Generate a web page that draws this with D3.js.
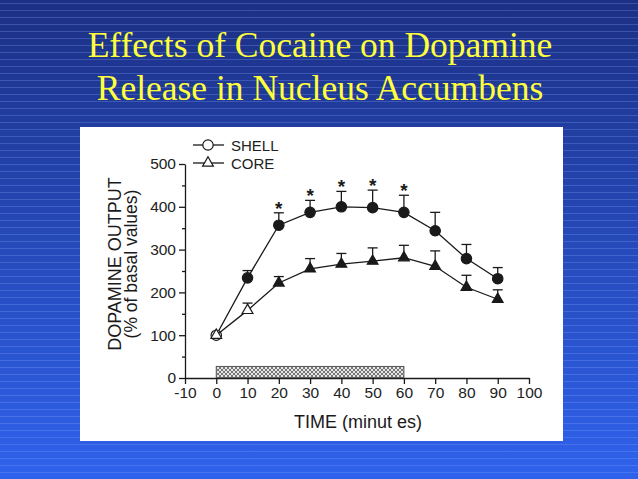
<!DOCTYPE html>
<html><head><meta charset="utf-8">
<script src="https://cdn.jsdelivr.net/npm/d3@7"></script>
<style>body{margin:0;overflow:hidden;background:#203a9a} svg{display:block}</style>
</head><body>
<script>
// ---- data ----
const titleLines = ["Effects of Cocaine on Dopamine", "Release in Nucleus Accumbens"];
const times = [0, 10, 20, 30, 40, 50, 60, 70, 80, 90];
const shellMean = [100, 234, 357, 387, 400, 398, 387, 344, 279, 232];
const shellErr  = [0, 17, 29, 28, 36, 41, 40, 43, 33, 26];
const shellFilled = [false, true, true, true, true, true, true, true, true, true];
const coreMean = [100, 158, 222, 255, 266, 273, 281, 261, 212, 184];
const coreErr  = [0, 17, 15, 24, 25, 31, 29, 36, 28, 22];
const coreFilled = [false, false, true, true, true, true, true, true, true, true];
const starTimes = [20, 30, 40, 50, 60];
const xTicks = [-10, 0, 10, 20, 30, 40, 50, 60, 70, 80, 90, 100];
const yTicks = [0, 100, 200, 300, 400, 500];
const yMinorTicks = [50, 150, 250, 350, 450];
const cocaineStart = [0], cocaineEnd = [60], cocaineLow = [1], cocaineHigh = [27];
const seriesNames = ["SHELL", "CORE"];
const xLabel = "TIME (minut es)";
const yLabel1 = "DOPAMINE OUTPUT";
const yLabel2 = "(% of basal values)";

const W = 638, H = 479;
const svg = d3.select("body").append("svg").attr("width", W).attr("height", H);
const defs = svg.append("defs");

// background gradient
const g = defs.append("linearGradient").attr("id", "bg").attr("x1", 0).attr("y1", 0).attr("x2", 0).attr("y2", 1);
g.append("stop").attr("offset", "0%").attr("stop-color", "#1c3084");
g.append("stop").attr("offset", "100%").attr("stop-color", "#2f62ec");
svg.append("rect").attr("width", W).attr("height", H).attr("fill", "url(#bg)");
const stripeY = d3.range(3, H, 7);
svg.append("g").selectAll("line").data(stripeY).join("line")
  .attr("x1", 0).attr("x2", W).attr("y1", d => d + 0.5).attr("y2", d => d + 0.5)
  .attr("stroke", "#8aa6ff").attr("stroke-opacity", 0.28).attr("stroke-width", 1);

// hatch pattern
const pat = defs.append("pattern").attr("id", "hatch").attr("patternUnits", "userSpaceOnUse")
  .attr("width", 4).attr("height", 4);
pat.append("rect").attr("width", 4).attr("height", 4).attr("fill", "#e6e6e6");
pat.append("path").attr("d", "M0,0 L4,4 M4,0 L0,4").attr("stroke", "#6a6a6a").attr("stroke-width", 0.9);

// title
svg.append("g").selectAll("text").data(titleLines).join("text")
  .attr("x", 320).attr("y", (d, i) => 57 + i * 43)
  .attr("text-anchor", "middle")
  .attr("font-family", "'Liberation Serif','Times New Roman',serif")
  .attr("font-size", 35.5).attr("fill", "#ffff3c")
  .text(d => d);

// panel
svg.append("rect").attr("x", 80).attr("y", 127).attr("width", 483).attr("height", 314).attr("fill", "#ffffff");

const x = d3.scaleLinear().domain([-10, 100]).range([185, 529]);
const y = d3.scaleLinear().domain([0, 500]).range([378, 164]);
const font = "'Liberation Sans',Arial,Helvetica,sans-serif";
const ink = "#1a1a1a";

// axes
svg.append("g").attr("transform", `translate(${x(-10)},0)`)
  .call(d3.axisLeft(y).tickValues(yTicks).tickSize(6).tickSizeOuter(0).tickPadding(3).tickFormat(d => String(d)));
svg.append("g").attr("transform", `translate(${x(-10)},0)`)
  .call(d3.axisLeft(y).tickValues(yMinorTicks).tickSize(3).tickSizeOuter(0).tickFormat(""))
  .select(".domain").remove();
svg.append("g").attr("transform", `translate(0,${y(0)})`)
  .call(d3.axisBottom(x).tickValues(xTicks).tickSize(6).tickSizeOuter(0).tickPadding(3).tickFormat(d => String(d)));
svg.selectAll(".domain, .tick line").attr("stroke", ink).attr("stroke-width", 1.3);
svg.selectAll(".tick text").attr("font-family", font).attr("font-size", 15.5).attr("fill", "#222");

// cocaine bar
svg.append("g").selectAll("rect").data(cocaineStart).join("rect")
  .attr("x", (d, i) => x(d)).attr("width", (d, i) => x(cocaineEnd[i]) - x(d))
  .attr("y", (d, i) => y(cocaineHigh[i])).attr("height", (d, i) => y(cocaineLow[i]) - y(cocaineHigh[i]))
  .attr("fill", "url(#hatch)").attr("stroke", "#555").attr("stroke-width", 1);

// axis labels
svg.append("text").attr("x", 358).attr("y", 428).attr("text-anchor", "middle")
  .attr("font-family", font).attr("font-size", 18).attr("fill", ink).text(xLabel);
svg.append("text").attr("transform", "translate(121,264) rotate(-90)").attr("text-anchor", "middle")
  .attr("font-family", font).attr("font-size", 18).attr("fill", ink).text(yLabel1);
svg.append("text").attr("transform", "translate(137,264) rotate(-90)").attr("text-anchor", "middle")
  .attr("font-family", font).attr("font-size", 17.5).attr("fill", ink).text(yLabel2);

// series
const series = [
  {mean: shellMean, err: shellErr, filled: shellFilled, sym: d3.symbolCircle, size: 85},
  {mean: coreMean, err: coreErr, filled: coreFilled, sym: d3.symbolTriangle, size: 50}
];
const line = d3.line().x(d => x(d[0])).y(d => y(d[1]));
series.forEach(s => {
  const pts = times.map((t, i) => [t, s.mean[i], s.err[i], s.filled[i]]);
  const eb = svg.append("g").attr("stroke", ink).attr("stroke-width", 1.3);
  eb.selectAll("line.v").data(pts.filter(p => p[2] > 0)).join("line")
    .attr("x1", p => x(p[0])).attr("x2", p => x(p[0]))
    .attr("y1", p => y(p[1])).attr("y2", p => y(p[1] + p[2]));
  eb.selectAll("line.c").data(pts.filter(p => p[2] > 0)).join("line")
    .attr("x1", p => x(p[0]) - 5).attr("x2", p => x(p[0]) + 5)
    .attr("y1", p => y(p[1] + p[2])).attr("y2", p => y(p[1] + p[2]));
  svg.append("path").datum(pts).attr("d", line).attr("fill", "none")
    .attr("stroke", ink).attr("stroke-width", 1.3);
  svg.append("g").selectAll("path").data(pts).join("path")
    .attr("transform", p => `translate(${x(p[0])},${y(p[1])})`)
    .attr("d", d3.symbol().type(s.sym).size(s.size))
    .attr("fill", p => p[3] ? ink : "#fff").attr("stroke", ink).attr("stroke-width", 1.2);
});

// significance stars
svg.append("g").selectAll("text").data(starTimes).join("text")
  .attr("x", t => x(t)).attr("y", t => { const i = times.indexOf(t); return y(shellMean[i] + shellErr[i]) + 2; })
  .attr("text-anchor", "middle").attr("font-family", font).attr("font-size", 19).attr("font-weight", "bold")
  .attr("fill", ink).text("*");

// legend
const legY = [145, 163];
const leg = svg.append("g");
seriesNames.forEach((name, i) => {
  leg.append("line").attr("x1", 193).attr("x2", 224).attr("y1", legY[i]).attr("y2", legY[i])
    .attr("stroke", ink).attr("stroke-width", 1.3);
  leg.append("path").attr("transform", `translate(208,${legY[i]})`)
    .attr("d", d3.symbol().type(series[i].sym).size(series[i].size))
    .attr("fill", "#fff").attr("stroke", ink).attr("stroke-width", 1.2);
  leg.append("text").attr("x", 231).attr("y", legY[i] + 5.5).attr("font-family", font)
    .attr("font-size", 15).attr("fill", "#222").text(name);
});
</script>
</body></html>
